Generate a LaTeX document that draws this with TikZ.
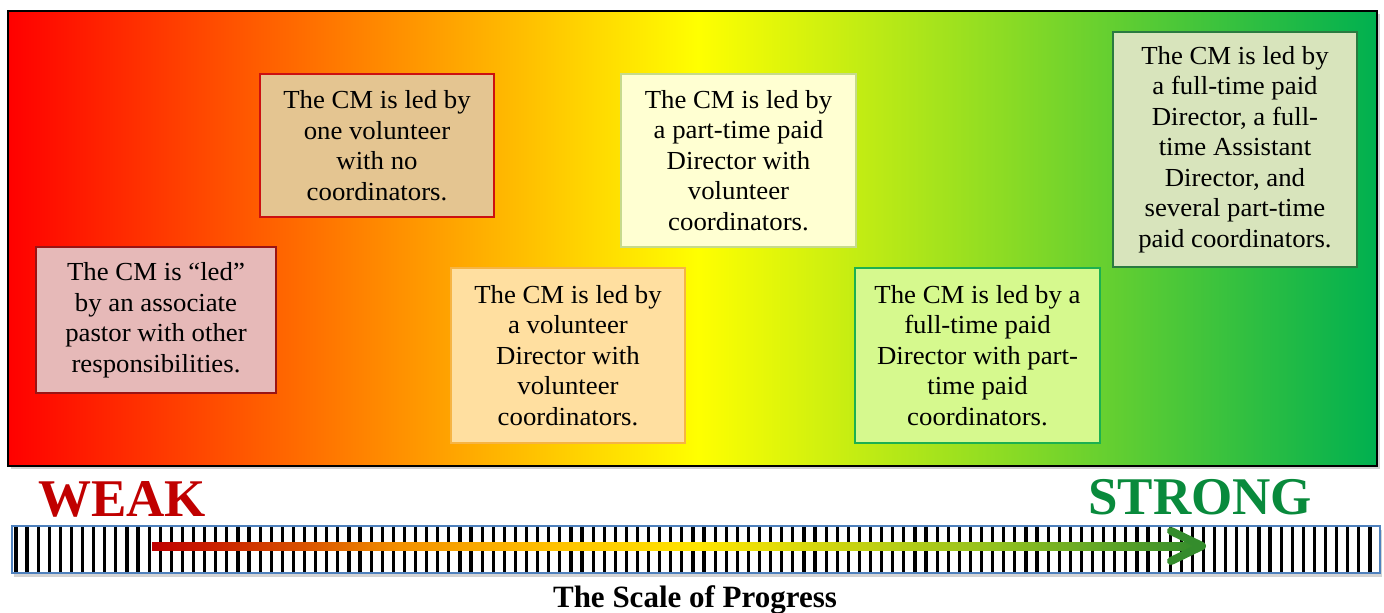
\documentclass[tikz,border=0pt]{standalone}
\usepackage{fontspec}
\setmainfont{Liberation Serif}
\newfontfamily\boxfont{Liberation Serif}[FakeStretch=1.03]
\usetikzlibrary{shadows}
\definecolor{sred}{HTML}{FF0000}
\definecolor{syellow}{HTML}{FFFF00}
\definecolor{sgreen}{HTML}{00B050}
\definecolor{ar0}{HTML}{C00000}
\definecolor{ar1}{HTML}{D85000}
\definecolor{ar2}{HTML}{F39000}
\definecolor{ar3}{HTML}{FFC000}
\definecolor{ar4}{HTML}{FFE500}
\definecolor{ar5}{HTML}{90C020}
\definecolor{ar6}{HTML}{348C2C}
\definecolor{weakred}{HTML}{C00000}
\definecolor{stronggreen}{HTML}{098A3C}
\definecolor{barblue}{HTML}{4F81BD}
\definecolor{f1}{HTML}{E6B9B8}\definecolor{d1}{HTML}{9A1414}
\definecolor{f2}{HTML}{E4C591}\definecolor{d2}{HTML}{CC1010}
\definecolor{f3}{HTML}{FFDFA0}\definecolor{d3}{HTML}{F6B444}
\definecolor{f4}{HTML}{FFFFD2}\definecolor{d4}{HTML}{C6DA8C}
\definecolor{f5}{HTML}{D6F98E}\definecolor{d5}{HTML}{1CB050}
\definecolor{f6}{HTML}{D8E4BC}\definecolor{d6}{HTML}{2A7A40}
\pgfdeclarehorizontalshading{mainsh}{100bp}{color(0bp)=(sred); color(25bp)=(sred); color(50.2bp)=(syellow); color(75bp)=(sgreen); color(100bp)=(sgreen)}
\pgfdeclarehorizontalshading{arrowsh}{100bp}{color(0bp)=(ar0); color(25bp)=(ar0); color(32.06bp)=(ar1); color(36.8bp)=(ar2); color(44bp)=(ar3); color(51.1bp)=(ar4); color(65.5bp)=(ar5); color(75bp)=(ar6); color(100bp)=(ar6)}
\tikzset{
  cmbox/.style={rectangle, line width=1.8pt, inner sep=0pt, align=center,
    font=\boxfont\fontsize{26}{30.5}\selectfont, text=black},
  stripe/.style={line width=3.2pt, black},
  bigword/.style={font=\fontsize{53}{53}\selectfont\bfseries, inner sep=0pt},
}
\begin{document}
\begin{tikzpicture}[x=1pt,y=-1pt]
\useasboundingbox (0,0) rectangle (1384,613);
% main gradient panel
\draw[line width=1.6pt, black, shading=mainsh,
  drop shadow={shadow xshift=3pt, shadow yshift=-3pt, opacity=0.35}]
  (8,11) rectangle (1377,466);
% boxes
\node[cmbox, fill=f1, draw=d1, minimum width=240pt, minimum height=146pt] (b1) at (156,320)
  {The CM is “led”\\by an associate\\pastor with other\\responsibilities.};
\node[cmbox, fill=f2, draw=d2, minimum width=234pt, minimum height=143pt] (b2) at (377,145.5)
  {The CM is led by\\one volunteer\\with no\\coordinators.};
\node[cmbox, fill=f3, draw=d3, minimum width=234pt, minimum height=175pt] (b3) at (568,355.5)
  {The CM is led by\\a volunteer\\Director with\\volunteer\\coordinators.};
\node[cmbox, fill=f4, draw=d4, minimum width=235pt, minimum height=173pt] (b4) at (738.5,160.5)
  {The CM is led by\\a part-time paid\\Director with\\volunteer\\coordinators.};
\node[cmbox, fill=f5, draw=d5, minimum width=245pt, minimum height=175pt] (b5) at (977.5,355.5)
  {The CM is led by a\\full-time paid\\Director with part-\\time paid\\coordinators.};
\node[cmbox, fill=f6, draw=d6, minimum width=244pt, minimum height=235pt] (b6) at (1235,149.5)
  {The CM is led by\\a full-time paid\\Director, a full-\\time Assistant\\Director, and\\several part-time\\paid coordinators.};
% labels
\node[bigword, text=weakred, anchor=base west] (weak) at (38,516) {WEAK};
\node[bigword, text=stronggreen, anchor=base west] (strong) at (1088,514) {STRONG};
% scale bar
\draw[fill=white, draw=barblue, line width=1.6pt,
  drop shadow={shadow xshift=2pt, shadow yshift=-4pt, opacity=0.35}]
  (12,526) rectangle (1380,573);
\foreach \i in {0,...,122} {
  \draw[stripe] ({16+11.098*\i},527) -- ({16+11.098*\i},572);
}
\draw[draw=barblue, line width=1.6pt] (12,526) rectangle (1380,573);
% arrow
\coordinate (arrowstart) at (152,546);
\coordinate (arrowend) at (1202,546);
\fill[shading=arrowsh] (152,542) rectangle (1199,550);
\draw[ar6, line width=8pt, line cap=round, line join=round]
  ([shift={(-31,-15)}]arrowend) -- (arrowend) -- ([shift={(-31,15)}]arrowend);
% title
\node[font=\fontsize{31}{31}\selectfont\bfseries, anchor=base, inner sep=0pt] (title) at (695,607) {The Scale of Progress};
\end{tikzpicture}
\end{document}
